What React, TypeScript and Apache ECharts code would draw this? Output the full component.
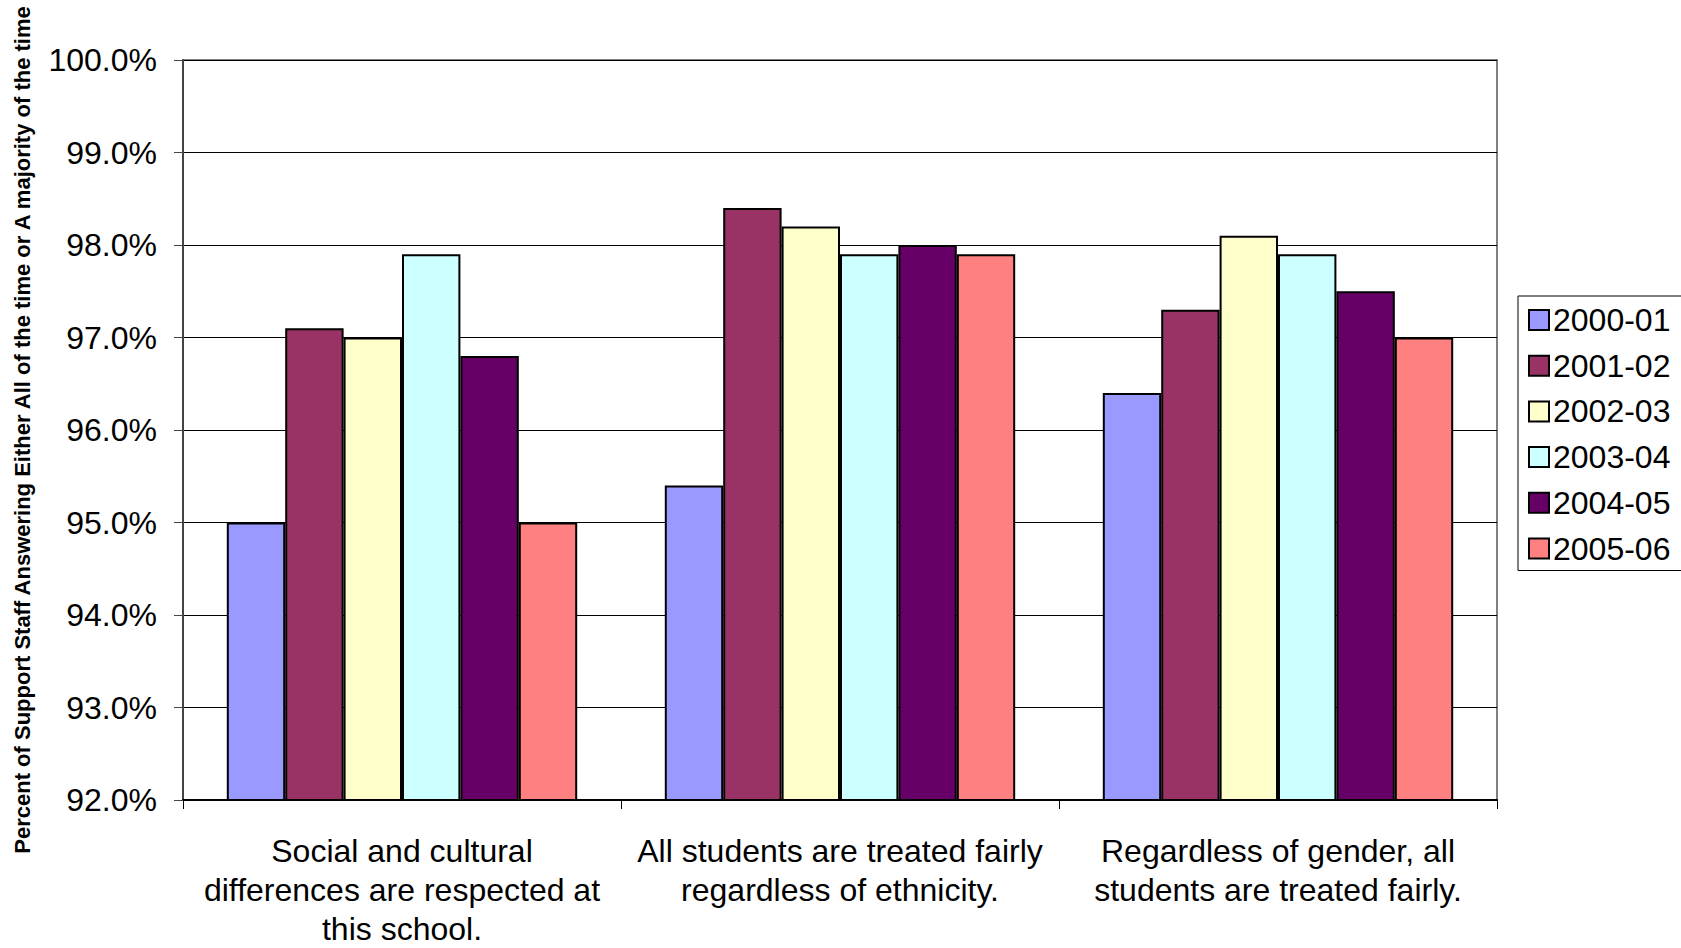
import React, { useEffect, useRef } from "react";
import * as echarts from "echarts";

const categories = [
  "Social and cultural\ndifferences are respected at\nthis school.",
  "All students are treated fairly\nregardless of ethnicity.",
  "Regardless of gender, all\nstudents are treated fairly.",
];
const seriesNames = ["2000-01", "2001-02", "2002-03", "2003-04", "2004-05", "2005-06"];
const colors = ["#9999FF", "#993366", "#FFFFCC", "#CCFFFF", "#660066", "#FF8080"];
const s2000 = [95.0, 95.4, 96.4];
const s2001 = [97.1, 98.4, 97.3];
const s2002 = [97.0, 98.2, 98.1];
const s2003 = [97.9, 97.9, 97.9];
const s2004 = [96.8, 98.0, 97.5];
const s2005 = [95.0, 97.9, 97.0];
const seriesData = [s2000, s2001, s2002, s2003, s2004, s2005];
const yTitle = "Percent of Support Staff Answering Either All of the time or A majority of the time";

const FONT = "'Liberation Sans', Arial, sans-serif";

export default function App() {
  const ref = useRef<HTMLDivElement>(null);
  useEffect(() => {
    if (!ref.current) return;
    const chart = echarts.init(ref.current, undefined, { renderer: "svg" });
    chart.setOption({
      animation: false,
      backgroundColor: "#fff",
      textStyle: { fontFamily: FONT },
      grid: {
        left: 183,
        top: 60,
        right: 184,
        bottom: 142,
        show: true,
        borderColor: "#808080",
        borderWidth: 2,
        backgroundColor: "transparent",
      },
      legend: {
        orient: "vertical",
        left: 1518,
        top: 296,
        padding: [8, 40, 6, 10],
        itemGap: 13.7,
        itemWidth: 20,
        itemHeight: 20,
        icon: "rect",
        borderColor: "#000",
        borderWidth: 1,
        borderRadius: 0,
        itemStyle: { borderColor: "#000", borderWidth: 2 },
        textStyle: { fontSize: 32, color: "#000", fontFamily: FONT, lineHeight: 31, padding: [0, 0, 0, -1] },
        data: seriesNames,
      },
      xAxis: {
        type: "category",
        data: categories,
        axisLine: { show: true, lineStyle: { color: "#000", width: 2 } },
        axisTick: { show: true, length: 9, lineStyle: { color: "#000", width: 1 } },
        axisLabel: {
          fontSize: 32,
          color: "#000",
          fontFamily: FONT,
          lineHeight: 39,
          margin: 31,
          interval: 0,
          align: "center",
        },
        splitLine: { show: false },
      },
      yAxis: {
        type: "value",
        min: 92,
        max: 100,
        interval: 1,
        name: yTitle,
        nameLocation: "middle",
        nameGap: 150,
        nameTextStyle: { fontSize: 22, fontWeight: "bold", color: "#000", fontFamily: FONT },
        axisLine: { show: true, lineStyle: { color: "#444", width: 2 } },
        axisTick: { show: true, length: 9, lineStyle: { color: "#444", width: 1 } },
        axisLabel: {
          fontSize: 32,
          color: "#000",
          fontFamily: FONT,
          margin: 26,
          formatter: (v: number) => v.toFixed(1) + "%",
        },
        splitLine: { show: true, lineStyle: { color: "#000", width: 1 } },
      },
      series: seriesNames.map((name, i) => ({
        name,
        type: "bar",
        data: seriesData[i],
        barGap: "0%",
        barCategoryGap: "20%",
        itemStyle: { color: colors[i], borderColor: "#000", borderWidth: 2 },
      })),
    });
    return () => chart.dispose();
  }, []);
  return (
    <div
      ref={ref}
      style={{ position: "fixed", left: 0, top: 0, width: 1681, height: 948 }}
    />
  );
}
